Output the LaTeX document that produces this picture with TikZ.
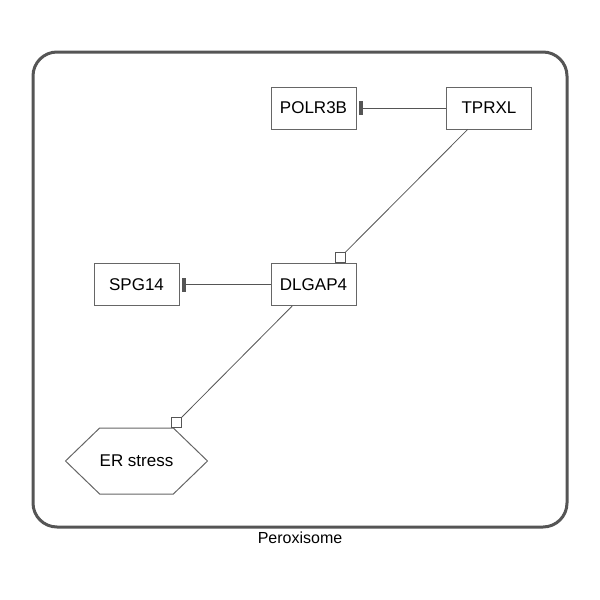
\documentclass[tikz,border=0pt]{standalone}
\usepackage{fontspec}
\setmainfont{Liberation Sans}
\usetikzlibrary{arrows.meta,shapes.symbols}
\definecolor{edgegray}{HTML}{555555}
\definecolor{boxgray}{HTML}{666666}
\begin{document}
\begin{tikzpicture}[x=1pt,y=-1pt,
    gene/.style={draw=boxgray,line width=1pt,minimum width=85pt,minimum height=42pt,inner sep=0pt,font=\fontsize{17}{19}\selectfont},
    hexa/.style={draw=boxgray,line width=1pt,signal,signal to=west and east,signal pointer angle=88,minimum width=139pt,minimum height=66pt,inner sep=0pt,font=\fontsize{17}{19}\selectfont},
    sq/.style={draw=edgegray,fill=white,line width=0.8pt,minimum size=10pt,inner sep=0pt},
    link/.style={draw=edgegray,line width=0.8pt},
    inhib/.style={link,-{Bar[width=14pt,line width=4pt,sep=2pt]}}]
 \useasboundingbox (0,0) rectangle (600,600);
 \draw[edgegray,line width=3pt,rounded corners=24pt] (33,52) rectangle (567,527);
 \node[font=\fontsize{16}{18}\selectfont] (peroxisome) at (300,538) {Peroxisome};

 \node[gene] (POLR3B) at (313.5,108) {POLR3B};
 \node[gene] (TPRXL) at (489,108) {TPRXL};
 \node[gene] (SPG14) at (136.5,284.5) {SPG14};
 \node[gene] (DLGAP4) at (313.5,284.5) {DLGAP4};
 \node[hexa] (ERstress) at (136.5,461) {ER stress};

 \node[sq,anchor=south] (sqDLGAP4) at (340,263) {};
 \node[sq,anchor=south west] (sqER) at (171,428) {};

 \draw[inhib] (TPRXL) -- (POLR3B);
 \draw[inhib] (DLGAP4) -- (SPG14);
 \draw[link] (TPRXL) -- (sqDLGAP4.north east);
 \draw[link] (DLGAP4) -- (sqER.north east);
\end{tikzpicture}
\end{document}
